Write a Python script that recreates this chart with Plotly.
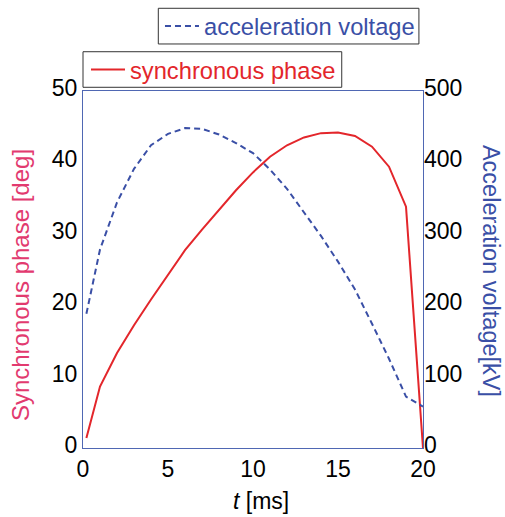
import plotly.graph_objects as go

t_phase = [0.2, 1, 2, 3, 4, 5, 6, 7, 8, 9, 10, 11, 12, 13, 14, 15, 16, 17, 18, 19, 20]
phase = [1.4, 8.6, 13.3, 17.2, 20.8, 24.3, 27.7, 30.6, 33.3, 36.1, 38.6, 40.8, 42.4, 43.5, 44.1, 44.2, 43.7, 42.2, 39.4, 33.8, 0.0]

t_volt = [0.2, 1, 2, 3, 4, 5, 6, 7, 8, 9, 10, 11, 12, 13, 14, 15, 16, 17, 18, 19, 20]
voltage = [188, 278, 344, 391, 424, 440, 448, 447, 439, 427, 413, 390, 363, 330, 297, 261, 222, 174, 125, 72, 58]

x_ticks = [0, 5, 10, 15, 20]
y1_ticks = [0, 10, 20, 30, 40, 50]
y2_ticks = [0, 100, 200, 300, 400, 500]

x_title = "<i>t</i> [ms]"
y1_title = "Synchronous phase [deg]"
y2_title = "Acceleration voltage[kV]"

RED = "#e3262b"
BLUE = "#3a4fa6"
PINK = "#e23a6f"
FONT = "Liberation Sans, Arial, sans-serif"
FRAME = "#4f67b3"

fig = go.Figure()
fig.add_trace(go.Scatter(x=t_phase, y=phase, mode="lines", name="synchronous phase",
                         line=dict(color=RED, width=2), legend="legend", showlegend=True))
fig.add_trace(go.Scatter(x=t_volt, y=voltage, mode="lines", name="acceleration voltage",
                         line=dict(color=BLUE, width=2, dash="6px,4px"), yaxis="y2",
                         legend="legend2", showlegend=True))

fig.update_layout(
    width=505, height=517,
    margin=dict(l=83, r=82, t=91, b=69, autoexpand=False),
    paper_bgcolor="white", plot_bgcolor="white",
    showlegend=True,
    font=dict(family=FONT, size=23, color="black"),
    xaxis=dict(range=[0, 20], tickvals=x_ticks, showgrid=False, zeroline=False,
               showline=True, linecolor=FRAME, linewidth=1, mirror=True, ticks=""),
    yaxis=dict(range=[0, 50], tickvals=y1_ticks, showgrid=False, zeroline=False,
               showline=True, linecolor=FRAME, linewidth=1, mirror=True, ticks="",
               ticklabelshift=-3),
    yaxis2=dict(range=[0, 500], tickvals=y2_ticks, overlaying="y", side="right",
                showgrid=False, zeroline=False, showline=False, ticks="",
                ticklabelshift=-3),
    legend=dict(xref="container", yref="container", x=0.1703, y=0.8656, xanchor="left", yanchor="middle",
                borderwidth=0, bgcolor="rgba(0,0,0,0)", font=dict(size=23.7, color=RED), itemwidth=34),
    legend2=dict(xref="container", yref="container", x=0.3168, y=0.9497, xanchor="left", yanchor="middle",
                 borderwidth=0, bgcolor="rgba(0,0,0,0)", font=dict(size=23.7, color=BLUE), itemwidth=34),
    shapes=[
        dict(type="rect", xref="paper", yref="paper", x0=0.0, x1=0.761, y0=1.0104, y1=1.110,
             line=dict(color="#333333", width=1), fillcolor="rgba(0,0,0,0)"),
        dict(type="rect", xref="paper", yref="paper", x0=0.2215, x1=0.988, y0=1.1317, y1=1.2317,
             line=dict(color="#333333", width=1), fillcolor="rgba(0,0,0,0)"),
    ],
    annotations=[
        dict(text=x_title, xref="paper", yref="paper", x=0.524, y=-0.148, xanchor="center", yanchor="middle",
             showarrow=False, font=dict(size=23, color="black")),
        dict(text=y1_title, xref="paper", yref="paper", x=-0.182, y=0.4566, xanchor="center", yanchor="middle",
             textangle=-90, showarrow=False, font=dict(size=24, color=PINK)),
        dict(text=y2_title, xref="paper", yref="paper", x=1.2, y=0.496, xanchor="center", yanchor="middle",
             textangle=90, showarrow=False, font=dict(size=23.5, color=BLUE)),
    ],
)

fig.write_html("out.html")
